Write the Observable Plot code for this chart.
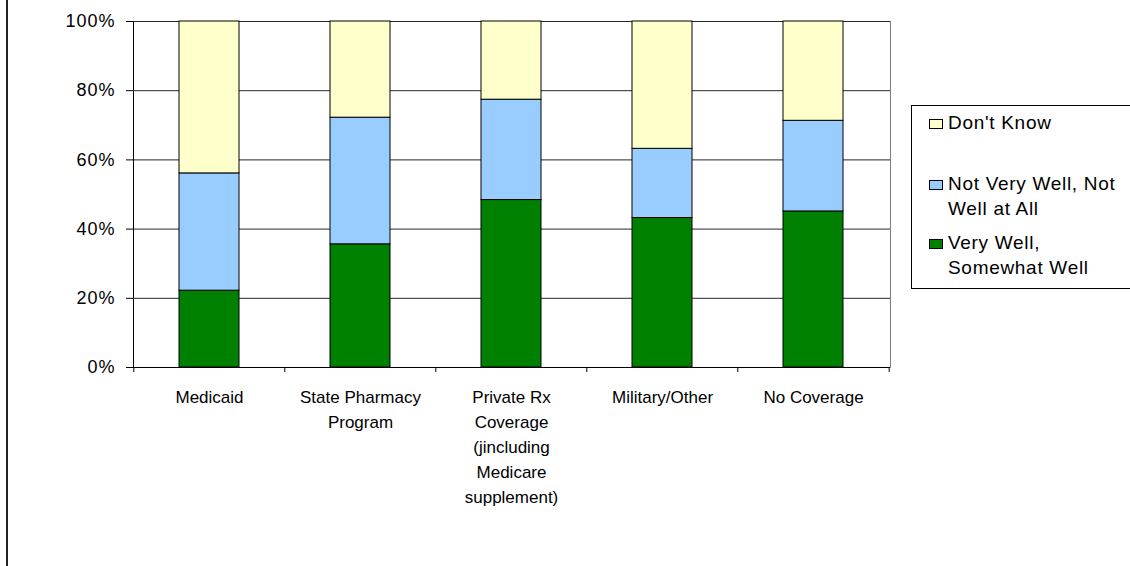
<!DOCTYPE html>
<html>
<head>
<meta charset="utf-8">
<script src="https://cdn.jsdelivr.net/npm/d3@7"></script>
<script src="https://cdn.jsdelivr.net/npm/@observablehq/plot@0.6"></script>
<style>
  html, body { margin: 0; padding: 0; background: #fff; overflow: hidden; }
  #wrap { position: relative; width: 1130px; height: 566px; overflow: hidden; font-family: "Liberation Sans", Arial, sans-serif; }
  #edge { position: absolute; left: 6px; top: 0; height: 566px; border-left: 2px solid #222; }
  #legend { position: absolute; left: 911px; top: 105px; width: 260px; height: 182px; border: 1px solid #000; background: #fff; }
  .item { position: absolute; left: 36px; font-size: 19px; line-height: 25px; letter-spacing: 0.7px; color: #000; white-space: nowrap; }
  .sw { position: absolute; left: -19px; width: 12px; height: 8px; border: 1px solid #000; }
  .txt { display: block; }
</style>
</head>
<body>
<div id="wrap">
  <div id="edge"></div>
  <div id="chart"></div>
  <div id="legend"></div>
</div>
<script>
// Coverage categories and their axis labels (multi-line)
const categories = ["Medicaid", "State Pharmacy", "Private Rx", "Military/Other", "No Coverage"];
const categoryLabels = [
  "Medicaid",
  "State Pharmacy\nProgram",
  "Private Rx\nCoverage\n(jincluding\nMedicare\nsupplement)",
  "Military/Other",
  "No Coverage"
];

// Series, stacked bottom to top
const series = ["Very Well, Somewhat Well", "Not Very Well, Not Well at All", "Don't Know"];
const seriesColors = ["#008000", "#99ccff", "#ffffcc"];

// Share of respondents (%) per category
const veryWell = [22.2, 35.6, 48.4, 43.2, 45.1];
const notWell = [33.9, 36.6, 29.0, 20.0, 26.2];
const dontKnow = [43.9, 27.8, 22.6, 36.8, 28.7];

const yTicks = [0, 20, 40, 60, 80, 100];

const valuesBySeries = [veryWell, notWell, dontKnow];
const rows = [];
series.forEach((s, si) => {
  categories.forEach((c, ci) => {
    rows.push({category: c, series: s, value: valuesBySeries[si][ci]});
  });
});

const width = 1130, height = 566;
const marginLeft = 133, marginRight = 240, marginTop = 21, marginBottom = 199;
const step = (width - marginLeft - marginRight) / categories.length;
const labelOf = new Map(categories.map((c, i) => [c, categoryLabels[i]]));

const chart = Plot.plot({
  width, height, marginLeft, marginRight, marginTop, marginBottom,
  style: {fontFamily: "'Liberation Sans', Arial, sans-serif", color: "#000", background: "#fff"},
  x: {domain: categories, paddingInner: 0.6, paddingOuter: 0.3, axis: null},
  y: {domain: [0, 100], axis: null},
  color: {domain: series, range: seriesColors},
  marks: [
    Plot.gridY(yTicks, {stroke: "#000", strokeOpacity: 0.85}),
    Plot.frame({anchor: "right", stroke: "#808080"}),
    Plot.barY(rows, {x: "category", y: "value", fill: "series", stroke: "#000", strokeWidth: 1}),
    Plot.frame({anchor: "left", stroke: "#000"}),
    Plot.ruleY([0], {stroke: "#000"}),
    Plot.axisY({
      ticks: yTicks, tickSize: 7, tickPadding: 11, fontSize: 18,
      tickFormat: d => d + "%", label: null, stroke: "#000"
    }),
    // tick marks between categories
    Plot.ruleX(categories, {x: d => d, y1: 0, y2: 0, dx: -step / 2, insetBottom: -5, stroke: "#000"}),
    Plot.ruleX(categories.slice(-1), {x: d => d, y1: 0, y2: 0, dx: step / 2, insetBottom: -5, stroke: "#000"}),
    Plot.axisX({
      tickSize: 0, tickPadding: 18, fontSize: 17, lineHeight: 1.47,
      tickFormat: d => labelOf.get(d), label: null
    })
  ]
});
chart.querySelectorAll("text").forEach(t => { if (t.closest("[aria-label='y-axis tick label']")) t.setAttribute("letter-spacing", "1"); });
document.getElementById("chart").appendChild(chart);

// Legend, listed top to bottom
const legend = document.getElementById("legend");
const legendItems = [
  {s: 2, lines: ["Don't Know"], top: 4},
  {s: 1, lines: ["Not Very Well, Not", "Well at All"], top: 65},
  {s: 0, lines: ["Very Well,", "Somewhat Well"], top: 124}
];
legendItems.forEach(it => {
  const div = document.createElement("div");
  div.className = "item";
  div.style.top = it.top + "px";
  const sw = document.createElement("span");
  sw.className = "sw";
  sw.style.top = "9px";
  sw.style.background = seriesColors[it.s];
  div.appendChild(sw);
  it.lines.forEach(l => {
    const t = document.createElement("span");
    t.className = "txt";
    t.textContent = l;
    div.appendChild(t);
  });
  legend.appendChild(div);
});
</script>
</body>
</html>
